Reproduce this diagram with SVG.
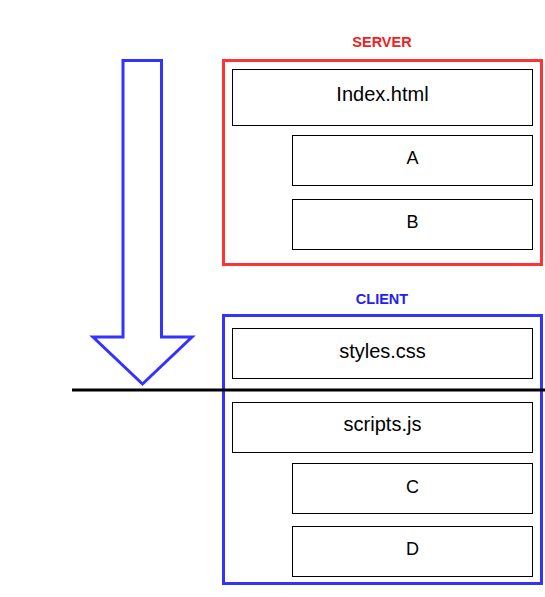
<svg xmlns="http://www.w3.org/2000/svg" width="545" height="597" viewBox="0 0 545 597">
<style>
.box{fill:#fff;stroke:#000;stroke-width:1}
.t{font-family:"Liberation Sans",Arial,sans-serif;font-size:20px;fill:#000;text-anchor:middle}
.l{font-family:"Liberation Sans",Arial,sans-serif;font-size:18px;fill:#000;text-anchor:middle}
.h{font-family:"Liberation Sans",Arial,sans-serif;font-size:14.5px;font-weight:bold;text-anchor:middle}
</style>
<rect width="545" height="597" fill="#fff"/>
<g id="server">
<rect x="223.5" y="60.5" width="318" height="204" fill="none" stroke="#ff3333" stroke-width="3"/>
<text class="h" x="382" y="47" fill="#ee2222">SERVER</text>
</g>
<g id="index"><rect class="box" x="232.5" y="69.5" width="300" height="56"/><text class="t" x="382.5" y="101">Index.html</text></g>
<g id="a"><rect class="box" x="292.5" y="135.5" width="240" height="50"/><text class="l" x="412.5" y="163.5">A</text></g>
<g id="b"><rect class="box" x="292.5" y="199.5" width="240" height="50"/><text class="l" x="412.5" y="227.5">B</text></g>
<g id="client">
<rect x="223.5" y="315.5" width="318" height="268" fill="none" stroke="#3333ff" stroke-width="3"/>
<text class="h" x="382" y="304" fill="#2222ee">CLIENT</text>
</g>
<g id="styles"><rect class="box" x="232.5" y="328.5" width="300" height="50"/><text class="t" x="382.5" y="357.5">styles.css</text></g>
<g id="scripts"><rect class="box" x="232.5" y="402.5" width="300" height="50"/><text class="t" x="382.5" y="431">scripts.js</text></g>
<g id="c"><rect class="box" x="292.5" y="463.5" width="240" height="50"/><text class="l" x="412.5" y="492.5">C</text></g>
<g id="d"><rect class="box" x="292.5" y="526.5" width="240" height="50"/><text class="l" x="412.5" y="555">D</text></g>
<g id="connectors">
<path id="arrow" d="M123,60.5 L161.5,60.5 L161.5,337 L192,337 L142.5,384 L93,337 L123,337 Z" fill="#fff" stroke="#3333ff" stroke-width="3" stroke-linejoin="miter"/>
<line x1="72" y1="390" x2="545" y2="390" stroke="#000" stroke-width="3"/>
</g>
</svg>
